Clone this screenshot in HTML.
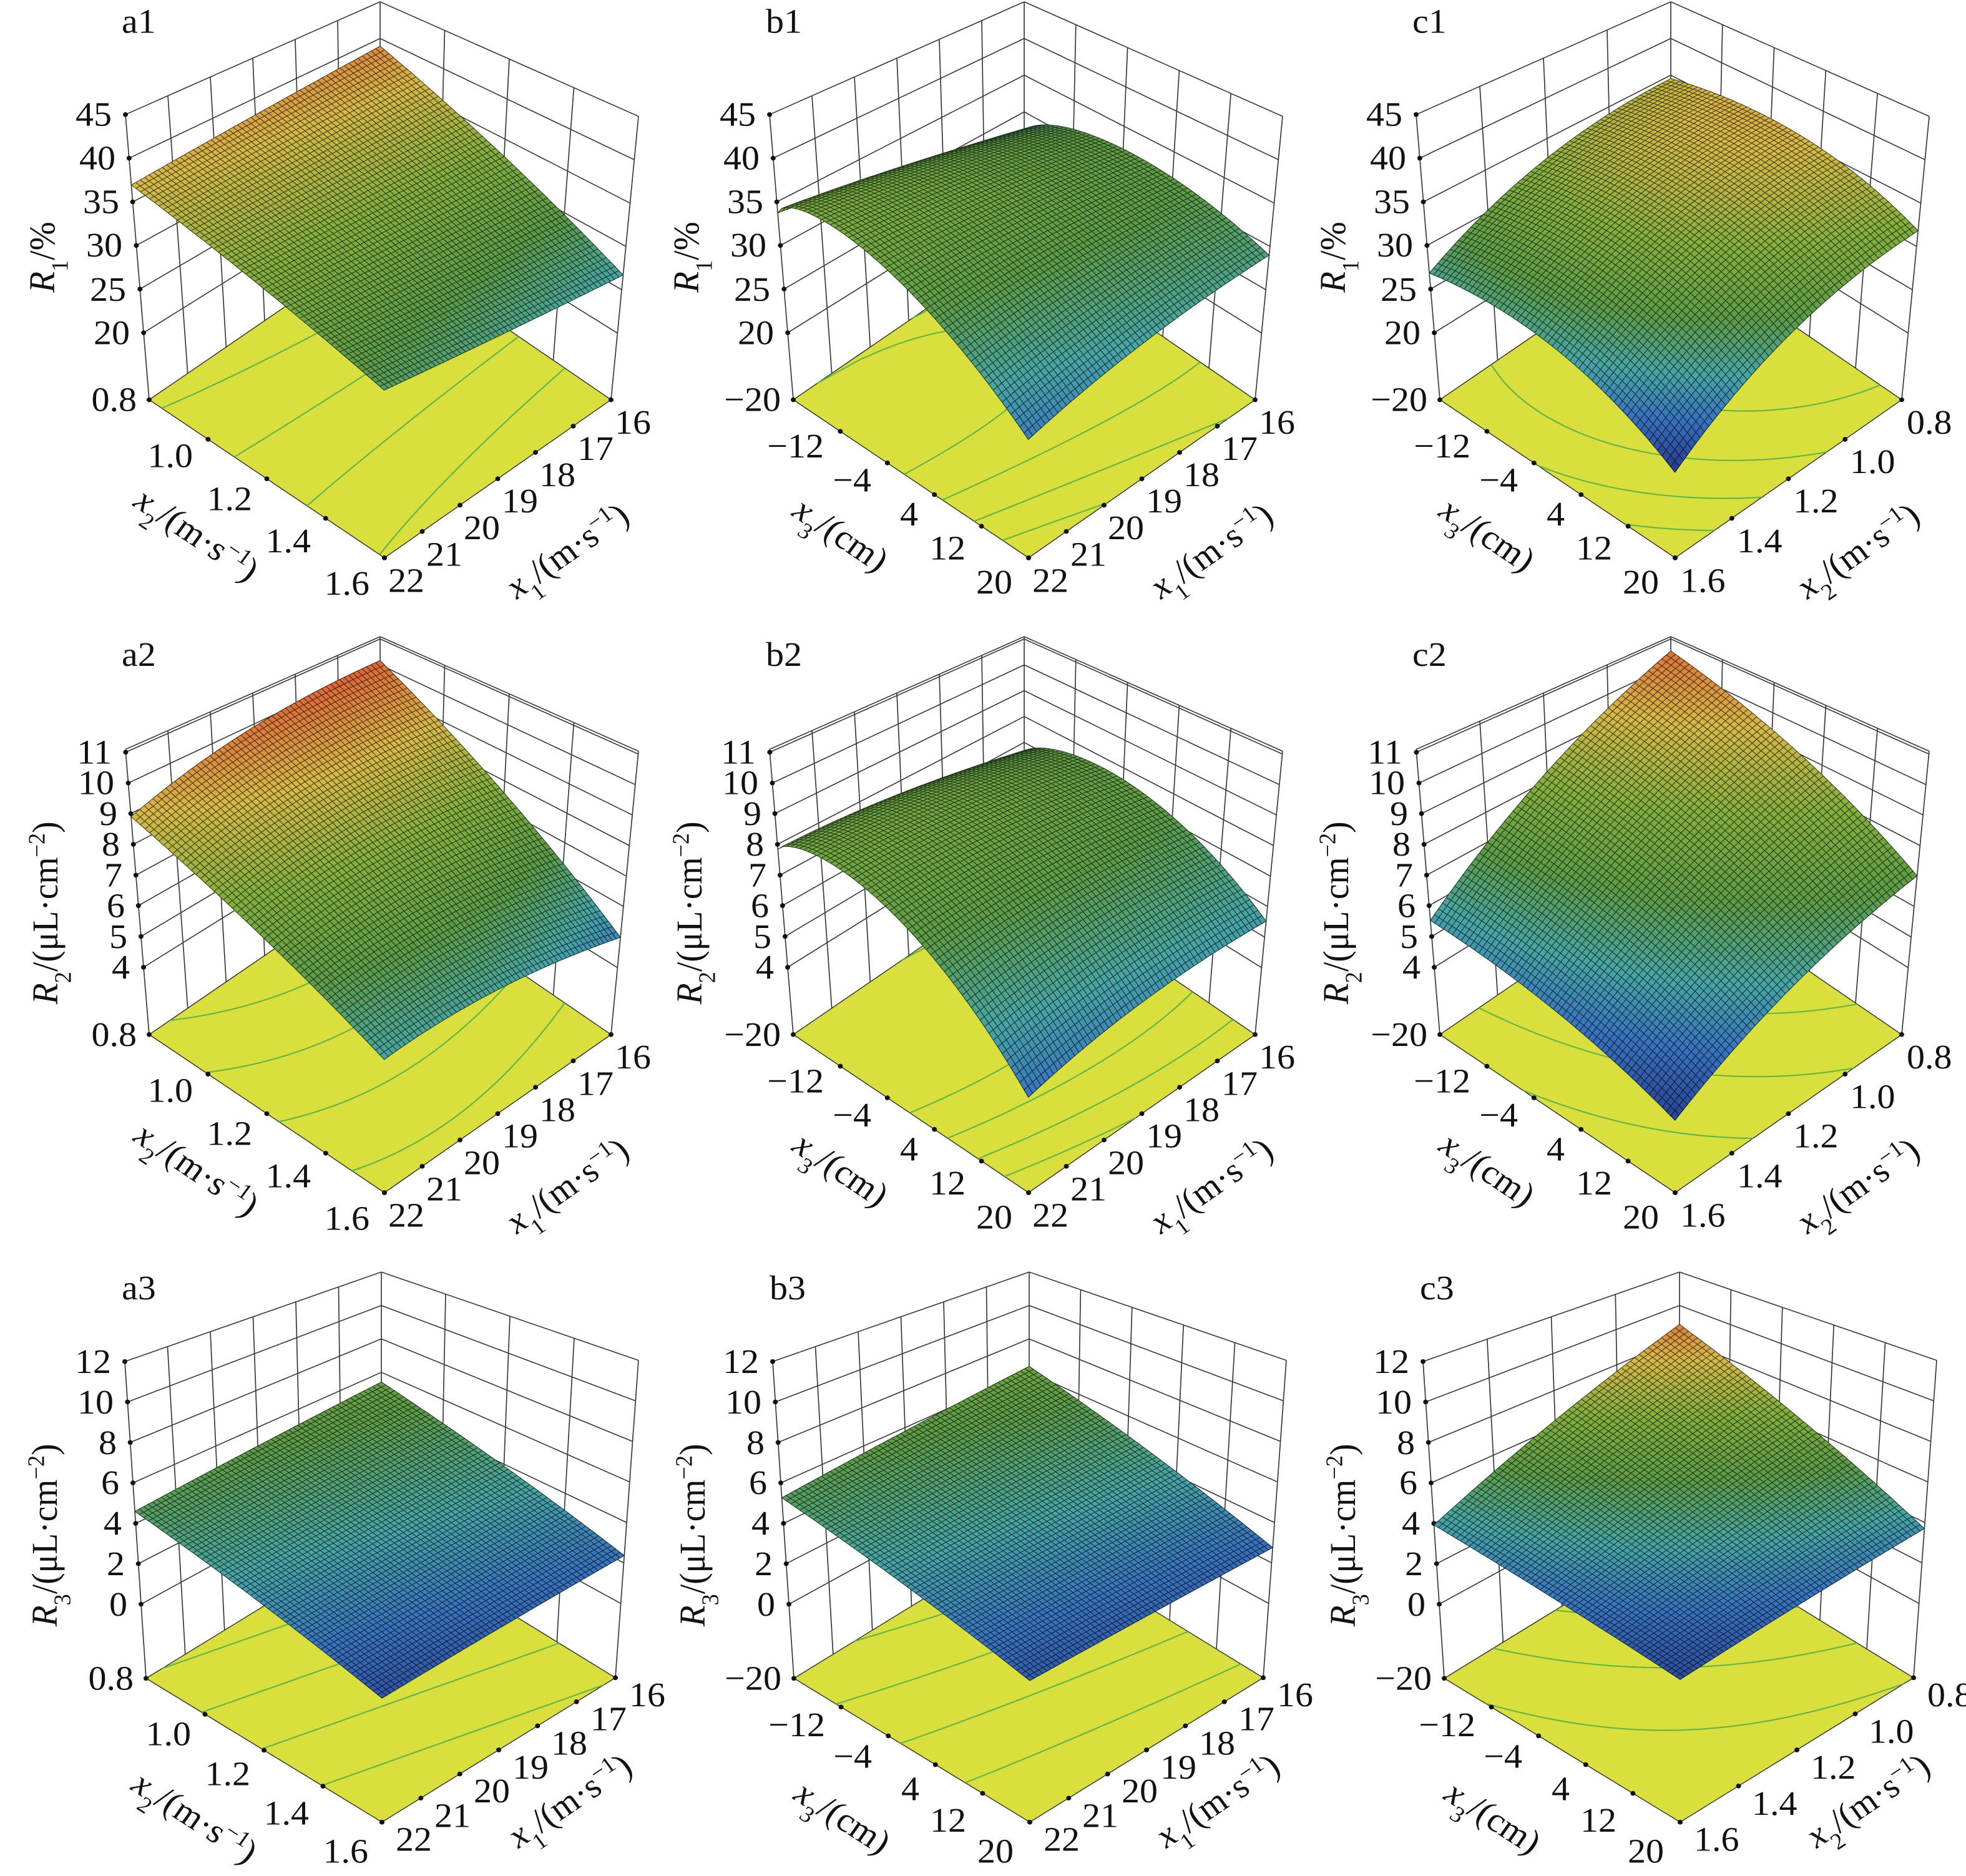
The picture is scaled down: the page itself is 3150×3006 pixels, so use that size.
<!DOCTYPE html>
<html><head><meta charset="utf-8">
<style>
html,body{margin:0;padding:0;background:#fff;}
svg{display:block;}
text{font-family:"Liberation Serif","Times New Roman",serif;font-size:58px;fill:#111;}
.e{text-anchor:end}
.m{text-anchor:middle}
.i{font-style:italic}
</style></head>
<body>
<svg id="S" xmlns="http://www.w3.org/2000/svg" width="3150" height="3006" viewBox="0 0 3150 3006">
<rect width="3150" height="3006" fill="#fff"/>

<!-- ROW 1 -->
<g transform="scale(1,0.956)">
 <g transform="translate(0,0)">
  <g id="g0"></g>
  <text x="195" y="55">a1</text>
  <text class="e" x="179" y="211">45</text><text class="e" x="185" y="284">40</text><text class="e" x="191" y="357">35</text><text class="e" x="196" y="430">30</text><text class="e" x="202" y="504">25</text><text class="e" x="208" y="577">20</text>
  <text class="m" transform="translate(87,431) rotate(-90)"><tspan class="i">R</tspan><tspan font-size="38" baseline-shift="sub">1</tspan>/%</text>
  <text class="e" x="219" y="689">0.8</text><text class="e" x="309" y="783">1.0</text><text class="e" x="404" y="855">1.2</text><text class="e" x="498" y="926">1.4</text><text class="e" x="592" y="997">1.6</text>
  <text x="622" y="992">22</text><text x="683" y="948">21</text><text x="743" y="904">20</text><text x="804" y="859">19</text><text x="864" y="815">18</text><text x="925" y="771">17</text><text x="985" y="727">16</text>
  <text class="m" dy="0.35em" transform="translate(316,895) rotate(35)"><tspan class="i">x</tspan><tspan font-size="38" baseline-shift="sub">2</tspan>/(m·s<tspan font-size="38" baseline-shift="super">−1</tspan>)</text>
  <text class="m" dy="0.35em" transform="translate(908,922) rotate(-36)"><tspan class="i">x</tspan><tspan font-size="38" baseline-shift="sub">1</tspan>/(m·s<tspan font-size="38" baseline-shift="super">−1</tspan>)</text>
 </g>
 <g transform="translate(1032,0)">
  <g id="g1"></g>
  <text x="195" y="55">b1</text>
  <text class="e" x="179" y="211">45</text><text class="e" x="185" y="284">40</text><text class="e" x="191" y="357">35</text><text class="e" x="196" y="430">30</text><text class="e" x="202" y="504">25</text><text class="e" x="208" y="577">20</text>
  <text class="m" transform="translate(87,431) rotate(-90)"><tspan class="i">R</tspan><tspan font-size="38" baseline-shift="sub">1</tspan>/%</text>
  <text class="e" x="219" y="689">−20</text><text class="e" x="288" y="767">−12</text><text class="e" x="364" y="824">−4</text><text class="e" x="439" y="881">4</text><text class="e" x="515" y="938">12</text><text class="e" x="590" y="995">20</text>
  <text x="622" y="992">22</text><text x="683" y="948">21</text><text x="743" y="904">20</text><text x="804" y="859">19</text><text x="864" y="815">18</text><text x="925" y="771">17</text><text x="985" y="727">16</text>
  <text class="m" dy="0.35em" transform="translate(316,895) rotate(35)"><tspan class="i">x</tspan><tspan font-size="38" baseline-shift="sub">3</tspan>/(cm)</text>
  <text class="m" dy="0.35em" transform="translate(908,922) rotate(-36)"><tspan class="i">x</tspan><tspan font-size="38" baseline-shift="sub">1</tspan>/(m·s<tspan font-size="38" baseline-shift="super">−1</tspan>)</text>
 </g>
 <g transform="translate(2068,0)">
  <g id="g2"></g>
  <text x="195" y="55">c1</text>
  <text class="e" x="179" y="211">45</text><text class="e" x="185" y="284">40</text><text class="e" x="191" y="357">35</text><text class="e" x="196" y="430">30</text><text class="e" x="202" y="504">25</text><text class="e" x="208" y="577">20</text>
  <text class="m" transform="translate(87,431) rotate(-90)"><tspan class="i">R</tspan><tspan font-size="38" baseline-shift="sub">1</tspan>/%</text>
  <text class="e" x="219" y="689">−20</text><text class="e" x="288" y="767">−12</text><text class="e" x="364" y="824">−4</text><text class="e" x="439" y="881">4</text><text class="e" x="515" y="938">12</text><text class="e" x="590" y="995">20</text>
  <text x="624" y="992">1.6</text><text x="715" y="926">1.4</text><text x="805" y="859">1.2</text><text x="896" y="793">1.0</text><text x="987" y="727">0.8</text>
  <text class="m" dy="0.35em" transform="translate(316,895) rotate(35)"><tspan class="i">x</tspan><tspan font-size="38" baseline-shift="sub">3</tspan>/(cm)</text>
  <text class="m" dy="0.35em" transform="translate(908,922) rotate(-36)"><tspan class="i">x</tspan><tspan font-size="38" baseline-shift="sub">2</tspan>/(m·s<tspan font-size="38" baseline-shift="super">−1</tspan>)</text>
 </g>
</g>

<!-- ROW 2 -->
<g transform="translate(0,1000) scale(1,0.956) translate(0,18)">
 <g transform="translate(0,0)">
  <g id="g3"></g>
  <text x="195" y="52">a2</text>
  <text class="e" x="179" y="216">11</text><text class="e" x="183" y="267">10</text><text class="e" x="188" y="319">9</text><text class="e" x="192" y="370">8</text><text class="e" x="196" y="422">7</text><text class="e" x="200" y="473">6</text><text class="e" x="204" y="525">5</text><text class="e" x="208" y="576">4</text>
  <text class="m" transform="translate(92,466) rotate(-90)"><tspan class="i">R</tspan><tspan font-size="38" baseline-shift="sub">2</tspan>/(μL·cm<tspan font-size="38" baseline-shift="super">−2</tspan>)</text>
  <text class="e" x="219" y="689">0.8</text><text class="e" x="309" y="783">1.0</text><text class="e" x="404" y="855">1.2</text><text class="e" x="498" y="926">1.4</text><text class="e" x="592" y="997">1.6</text>
  <text x="622" y="992">22</text><text x="683" y="948">21</text><text x="743" y="904">20</text><text x="804" y="859">19</text><text x="864" y="815">18</text><text x="925" y="771">17</text><text x="985" y="727">16</text>
  <text class="m" dy="0.35em" transform="translate(316,895) rotate(35)"><tspan class="i">x</tspan><tspan font-size="38" baseline-shift="sub">2</tspan>/(m·s<tspan font-size="38" baseline-shift="super">−1</tspan>)</text>
  <text class="m" dy="0.35em" transform="translate(908,922) rotate(-36)"><tspan class="i">x</tspan><tspan font-size="38" baseline-shift="sub">1</tspan>/(m·s<tspan font-size="38" baseline-shift="super">−1</tspan>)</text>
 </g>
 <g transform="translate(1032,0)">
  <g id="g4"></g>
  <text x="195" y="52">b2</text>
  <text class="e" x="179" y="216">11</text><text class="e" x="183" y="267">10</text><text class="e" x="188" y="319">9</text><text class="e" x="192" y="370">8</text><text class="e" x="196" y="422">7</text><text class="e" x="200" y="473">6</text><text class="e" x="204" y="525">5</text><text class="e" x="208" y="576">4</text>
  <text class="m" transform="translate(92,466) rotate(-90)"><tspan class="i">R</tspan><tspan font-size="38" baseline-shift="sub">2</tspan>/(μL·cm<tspan font-size="38" baseline-shift="super">−2</tspan>)</text>
  <text class="e" x="219" y="689">−20</text><text class="e" x="288" y="767">−12</text><text class="e" x="364" y="824">−4</text><text class="e" x="439" y="881">4</text><text class="e" x="515" y="938">12</text><text class="e" x="590" y="995">20</text>
  <text x="622" y="992">22</text><text x="683" y="948">21</text><text x="743" y="904">20</text><text x="804" y="859">19</text><text x="864" y="815">18</text><text x="925" y="771">17</text><text x="985" y="727">16</text>
  <text class="m" dy="0.35em" transform="translate(316,895) rotate(35)"><tspan class="i">x</tspan><tspan font-size="38" baseline-shift="sub">3</tspan>/(cm)</text>
  <text class="m" dy="0.35em" transform="translate(908,922) rotate(-36)"><tspan class="i">x</tspan><tspan font-size="38" baseline-shift="sub">1</tspan>/(m·s<tspan font-size="38" baseline-shift="super">−1</tspan>)</text>
 </g>
 <g transform="translate(2068,0)">
  <g id="g5"></g>
  <text x="195" y="52">c2</text>
  <text class="e" x="179" y="216">11</text><text class="e" x="183" y="267">10</text><text class="e" x="188" y="319">9</text><text class="e" x="192" y="370">8</text><text class="e" x="196" y="422">7</text><text class="e" x="200" y="473">6</text><text class="e" x="204" y="525">5</text><text class="e" x="208" y="576">4</text>
  <text class="m" transform="translate(92,466) rotate(-90)"><tspan class="i">R</tspan><tspan font-size="38" baseline-shift="sub">2</tspan>/(μL·cm<tspan font-size="38" baseline-shift="super">−2</tspan>)</text>
  <text class="e" x="219" y="689">−20</text><text class="e" x="288" y="767">−12</text><text class="e" x="364" y="824">−4</text><text class="e" x="439" y="881">4</text><text class="e" x="515" y="938">12</text><text class="e" x="590" y="995">20</text>
  <text x="624" y="992">1.6</text><text x="715" y="926">1.4</text><text x="805" y="859">1.2</text><text x="896" y="793">1.0</text><text x="987" y="727">0.8</text>
  <text class="m" dy="0.35em" transform="translate(316,895) rotate(35)"><tspan class="i">x</tspan><tspan font-size="38" baseline-shift="sub">3</tspan>/(cm)</text>
  <text class="m" dy="0.35em" transform="translate(908,922) rotate(-36)"><tspan class="i">x</tspan><tspan font-size="38" baseline-shift="sub">2</tspan>/(m·s<tspan font-size="38" baseline-shift="super">−1</tspan>)</text>
 </g>
</g>

<!-- ROW 3 -->
<g transform="translate(0,2000) scale(1,0.956)">
 <g transform="translate(0,0)">
  <g id="g6"></g>
  <text x="195" y="86">a3</text>
  <text class="e" x="178" y="209">12</text><text class="e" x="182" y="277">10</text><text class="e" x="187" y="345">8</text><text class="e" x="191" y="412">6</text><text class="e" x="195" y="480">4</text><text class="e" x="200" y="548">2</text><text class="e" x="204" y="616">0</text>
  <text class="m" transform="translate(91,481) rotate(-90)"><tspan class="i">R</tspan><tspan font-size="38" baseline-shift="sub">3</tspan>/(μL·cm<tspan font-size="38" baseline-shift="super">−2</tspan>)</text>
  <text class="e" x="214" y="740">0.8</text><text class="e" x="306" y="833">1.0</text><text class="e" x="401" y="900">1.2</text><text class="e" x="495" y="966">1.4</text><text class="e" x="590" y="1030">1.6</text>
  <text x="634" y="1010">22</text><text x="696" y="970">21</text><text x="759" y="929">20</text><text x="821" y="889">19</text><text x="883" y="849">18</text><text x="946" y="808">17</text><text x="1008" y="768">16</text>
  <text class="m" dy="0.35em" transform="translate(313,953) rotate(34)"><tspan class="i">x</tspan><tspan font-size="38" baseline-shift="sub">2</tspan>/(m·s<tspan font-size="38" baseline-shift="super">−1</tspan>)</text>
  <text class="m" dy="0.35em" transform="translate(912,925) rotate(-35)"><tspan class="i">x</tspan><tspan font-size="38" baseline-shift="sub">1</tspan>/(m·s<tspan font-size="38" baseline-shift="super">−1</tspan>)</text>
 </g>
 <g transform="translate(1038,0)">
  <g id="g7"></g>
  <text x="195" y="86">b3</text>
  <text class="e" x="178" y="209">12</text><text class="e" x="182" y="277">10</text><text class="e" x="187" y="345">8</text><text class="e" x="191" y="412">6</text><text class="e" x="195" y="480">4</text><text class="e" x="200" y="548">2</text><text class="e" x="204" y="616">0</text>
  <text class="m" transform="translate(91,481) rotate(-90)"><tspan class="i">R</tspan><tspan font-size="38" baseline-shift="sub">3</tspan>/(μL·cm<tspan font-size="38" baseline-shift="super">−2</tspan>)</text>
  <text class="e" x="214" y="740">−20</text><text class="e" x="284" y="818">−12</text><text class="e" x="359" y="871">−4</text><text class="e" x="435" y="925">4</text><text class="e" x="510" y="978">12</text><text class="e" x="586" y="1030">20</text>
  <text x="634" y="1010">22</text><text x="696" y="970">21</text><text x="759" y="929">20</text><text x="821" y="889">19</text><text x="883" y="849">18</text><text x="946" y="808">17</text><text x="1008" y="768">16</text>
  <text class="m" dy="0.35em" transform="translate(313,953) rotate(34)"><tspan class="i">x</tspan><tspan font-size="38" baseline-shift="sub">3</tspan>/(cm)</text>
  <text class="m" dy="0.35em" transform="translate(912,925) rotate(-35)"><tspan class="i">x</tspan><tspan font-size="38" baseline-shift="sub">1</tspan>/(m·s<tspan font-size="38" baseline-shift="super">−1</tspan>)</text>
 </g>
 <g transform="translate(2080,0)">
  <g id="g8"></g>
  <text x="195" y="86">c3</text>
  <text class="e" x="178" y="209">12</text><text class="e" x="182" y="277">10</text><text class="e" x="187" y="345">8</text><text class="e" x="191" y="412">6</text><text class="e" x="195" y="480">4</text><text class="e" x="200" y="548">2</text><text class="e" x="204" y="616">0</text>
  <text class="m" transform="translate(91,481) rotate(-90)"><tspan class="i">R</tspan><tspan font-size="38" baseline-shift="sub">3</tspan>/(μL·cm<tspan font-size="38" baseline-shift="super">−2</tspan>)</text>
  <text class="e" x="214" y="740">−20</text><text class="e" x="284" y="818">−12</text><text class="e" x="359" y="871">−4</text><text class="e" x="435" y="925">4</text><text class="e" x="510" y="978">12</text><text class="e" x="586" y="1030">20</text>
  <text x="634" y="1010">1.6</text><text x="727" y="950">1.4</text><text x="821" y="889">1.2</text><text x="914" y="829">1.0</text><text x="1008" y="768">0.8</text>
  <text class="m" dy="0.35em" transform="translate(313,953) rotate(34)"><tspan class="i">x</tspan><tspan font-size="38" baseline-shift="sub">3</tspan>/(cm)</text>
  <text class="m" dy="0.35em" transform="translate(912,925) rotate(-35)"><tspan class="i">x</tspan><tspan font-size="38" baseline-shift="sub">2</tspan>/(m·s<tspan font-size="38" baseline-shift="super">−1</tspan>)</text>
 </g>
</g>
</svg>

<script>
(function(){
function prep(f){f.B=[f.P[0],f.Lb[1]+f.Rb[1]-f.F[1]];f.Ft=[f.Lt[0]+f.Rt[0]-f.P[0],f.Lt[1]+f.Rt[1]-f.P[1]];return f;}
var F12=prep({P:[609,3],Lt:[201,192],Lb:[239,670],Rt:[1023,195],Rb:[979,670],F:[616,935]});
var F3=prep({P:[611,40],Lt:[200,190],Lb:[234,721],Rt:[1023,188],Rb:[986,720],F:[612,962]});
function bil(a,b,c,d,p,q){return[(a[0]*(1-p)+b[0]*p)*(1-q)+(c[0]*(1-p)+d[0]*p)*q,(a[1]*(1-p)+b[1]*p)*(1-q)+(c[1]*(1-p)+d[1]*p)*q];}
function pt(f,p,q,v){var t=bil(f.P,f.Lt,f.Rt,f.Ft,p,q),g=bil(f.B,f.Lb,f.Rb,f.F,p,q);return[t[0]+(g[0]-t[0])*v,t[1]+(g[1]-t[1])*v];}
function s(a){return a[0].toFixed(1)+','+a[1].toFixed(1);}
var stops=[[0,[35,45,130]],[0.18,[55,115,190]],[0.3,[70,165,165]],[0.45,[92,155,70]],[0.62,[130,175,60]],[0.8,[215,185,70]],[1,[222,92,52]]];
function cmap(c){c=Math.max(0,Math.min(1,c));for(var i=1;i<stops.length;i++){if(c<=stops[i][0]){var a=stops[i-1],b=stops[i],t=(c-a[0])/(b[0]-a[0]);return[0,1,2].map(function(k){return Math.round(a[1][k]+(b[1][k]-a[1][k])*t);});}}return stops[stops.length-1][1];}
var z12=[0,.153,.306,.459,.612,.765],z2=[.010,.118,.225,.333,.441,.548,.656,.764],z3=[0,.1277,.2554,.383,.511,.638,.766];
var P=[
 {f:F12,nL:6,nR:4,zt:z12,s:[.185,.247,.56,.49,0,1,0,1,.9,.3]},
 {f:F12,nL:6,nR:5,zt:z12,s:[.546,.345,.49,.64,-.02,1,-.13,.7,.58,.2]},
 {f:F12,nL:4,nR:5,zt:z12,s:[.32,.556,.404,.74,-.06,1,-.08,1,.82,.03]},
 {f:F12,nL:6,nR:4,zt:z2,s:[.10,.236,.657,.595,-.04,1,0,1,.98,.22]},
 {f:F12,nL:6,nR:5,zt:z2,s:[.48,.35,.6,.71,-.03,1,-.15,.8,.55,.18]},
 {f:F12,nL:4,nR:5,zt:z2,s:[.06,.6,.44,.78,-.03,1,-.03,1,.95,.05]},
 {f:F3,nL:6,nR:4,zt:z3,s:[.42,.473,.615,.667,0,1,0,1,.5,.1]},
 {f:F3,nL:6,nR:5,zt:z3,s:[.36,.43,.59,.62,0,1,0,1,.52,.12]},
 {f:F3,nL:4,nR:5,zt:z3,s:[.20,.516,.53,.617,0,1,0,1,.92,.08]}
];
P.forEach(function(pn,idx){
 var g=document.getElementById('g'+idx),f=pn.f,h='',d='',i,j;
 function ln(a,b){d+='M'+s(a)+'L'+s(b);}
 for(i=0;i<=pn.nL;i++){var p=i/pn.nL;ln(pt(f,p,0,0),pt(f,p,0,1));}
 pn.zt.forEach(function(v){ln(pt(f,0,0,v),pt(f,1,0,v));ln(pt(f,0,0,v),pt(f,0,1,v));});
 ln(pt(f,0,0,0),pt(f,1,0,0));ln(pt(f,0,0,0),pt(f,0,1,0));
 for(j=0;j<=pn.nR;j++){var q=j/pn.nR;ln(pt(f,0,q,0),pt(f,0,q,1));}
 h+='<path d="'+d+'" stroke="#3a3a3a" stroke-width="1.7" fill="none"/>';
 h+='<polygon points="'+s(f.B)+' '+s(f.Lb)+' '+s(f.F)+' '+s(f.Rb)+'" fill="#d9df3c" stroke="#333" stroke-width="1.5"/>';
 var S=pn.s;
 function val(p,q){var pp=Math.pow(p,S[5]),qq=Math.pow(q,S[7]);
  return (S[0]*(1-p)+S[1]*p)*(1-q)+(S[2]*(1-p)+S[3]*p)*q+S[4]*4*pp*(1-pp)+S[6]*4*qq*(1-qq);}
 var N=56,V=[],vmin=9,vmax=-9;
 for(i=0;i<=N;i++){V[i]=[];for(j=0;j<=N;j++){var v=val(i/N,j/N);V[i][j]=v;if(v<vmin)vmin=v;if(v>vmax)vmax=v;}}
 var cd='';
 for(var L=1;L<=4;L++){var lev=vmin+(vmax-vmin)*L/5;
  for(i=0;i<N;i++)for(j=0;j<N;j++){
   var c=[[i,j],[i+1,j],[i+1,j+1],[i,j+1]],pts=[];
   for(var k=0;k<4;k++){var a=c[k],b=c[(k+1)%4],va=V[a[0]][a[1]]-lev,vb=V[b[0]][b[1]]-lev;
    if((va<0)!=(vb<0)){var t=va/(va-vb);pts.push(pt(f,(a[0]+(b[0]-a[0])*t)/N,(a[1]+(b[1]-a[1])*t)/N,1));}}
   if(pts.length>=2)cd+='M'+s(pts[0])+'L'+s(pts[1]);
  }}
 h+='<path d="'+cd+'" stroke="#52b04a" stroke-width="2.2" fill="none" opacity="0.9"/>';
 var dots='';
 function dot(a){dots+='<circle cx="'+a[0].toFixed(1)+'" cy="'+a[1].toFixed(1)+'" r="4"/>';}
 for(j=0;j<=pn.nR;j++)dot(pt(f,1,j/pn.nR,1));
 for(i=0;i<=pn.nL;i++)dot(pt(f,i/pn.nL,1,1));
 pn.zt.forEach(function(v){dot(pt(f,1,0,v));});
 h+='<g fill="#111">'+dots+'</g>';
 var sh='';
 for(var sm=0;sm<=2*(N-1);sm++){
  for(i=0;i<N;i++){j=sm-i;if(j<0||j>=N)continue;
   var a1=pt(f,i/N,j/N,V[i][j]),a2=pt(f,(i+1)/N,j/N,V[i+1][j]),a3=pt(f,(i+1)/N,(j+1)/N,V[i+1][j+1]),a4=pt(f,i/N,(j+1)/N,V[i][j+1]);
   var av=(V[i][j]+V[i+1][j]+V[i+1][j+1]+V[i][j+1])/4;
   var cc=S[9]+(S[8]-S[9])*(vmax-av)/(vmax-vmin);
   var col=cmap(cc);
   var st=col.map(function(x){return Math.round(x*0.35);});
   sh+='<polygon points="'+s(a1)+' '+s(a2)+' '+s(a3)+' '+s(a4)+'" fill="rgb('+col+')" stroke="rgb('+st+')"/>';
  }}
 h+='<g stroke-width="1.1" stroke-linejoin="round">'+sh+'</g>';
 g.innerHTML=h;
});
})();
</script>
</body></html>
